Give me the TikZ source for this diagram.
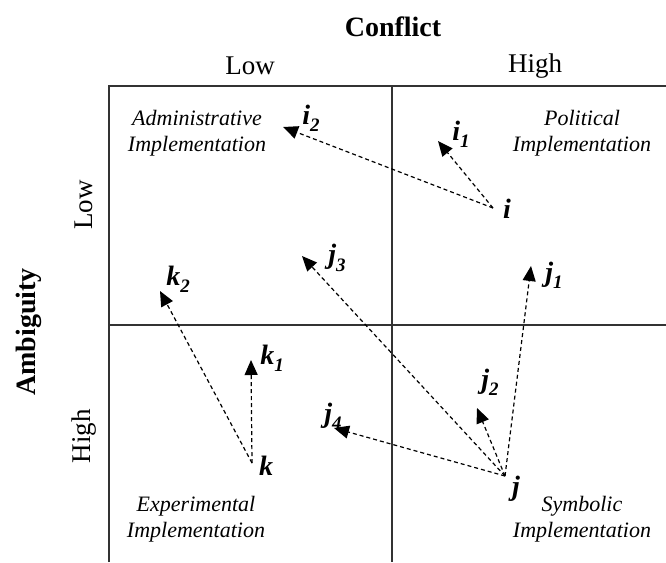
\documentclass[tikz,border=0pt]{standalone}
\usepackage{fontspec}
\setmainfont{Liberation Serif}
\usetikzlibrary{arrows.meta}
\newcommand\ptlab[2]{\fontsize{28}{28}\selectfont\bfseries\itshape #1\raisebox{-0.26em}{\fontsize{19}{19}\selectfont #2}}
\tikzset{
  grid/.style={line width=1.6pt, draw=black!80},
  arr/.style={dashed, dash pattern=on 4pt off 3pt, line width=1.2pt, -{Triangle[length=15pt,width=13pt]}},
  head/.style={font=\fontsize{28}{28}\selectfont\bfseries, inner sep=0pt},
  lvl/.style={font=\fontsize{27}{27}\selectfont, inner sep=0pt},
  quad/.style={font=\fontsize{22}{26}\selectfont\itshape, align=center, inner sep=0pt},
  lab/.style={inner sep=0pt}
}
\begin{document}
\begin{tikzpicture}[x=1pt,y=-1pt]
\useasboundingbox (0,0) rectangle (666,562);
% grid
\draw[grid] (109,562) -- (109,86) -- (666,86);
\draw[grid] (392,86) -- (392,562);
\draw[grid] (109,325) -- (666,325);
% headings
\node[head] (conf) at (393,27) {Conflict};
\node[lvl] (clow) at (250,66) {Low};
\node[lvl] (chigh) at (535,66) {High};
\node[head, rotate=90] (amb) at (29,332) {Ambiguity};
\node[lvl, rotate=90] (alow) at (84,205) {Low};
\node[lvl, rotate=90] (ahigh) at (84,436) {High};
% quadrant names
\node[quad] (adm) at (197,133) {Administrative\\Implementation};
\node[quad] (pol) at (582,133) {Political\\Implementation};
\node[quad] (exp) at (196,519) {Experimental\\Implementation};
\node[quad] (sym) at (582,519) {Symbolic\\Implementation};
% points
\coordinate (i) at (493,208);
\coordinate (i1) at (438,141);
\coordinate (i2) at (283,127);
\coordinate (j) at (505,476);
\coordinate (j1) at (531,266);
\coordinate (j2) at (477,408);
\coordinate (j3) at (302,256);
\coordinate (j4) at (334,428);
\coordinate (k) at (252,463);
\coordinate (k1) at (251,360);
\coordinate (k2) at (160,291);
% arrows
\draw[arr] (i) -- (i1);
\draw[arr] (i) -- (i2);
\draw[arr] (j) -- (j1);
\draw[arr] (j) -- (j2);
\draw[arr] (j) -- (j3);
\draw[arr] (j) -- (j4);
\draw[arr] (k) -- (k1);
\draw[arr] (k) -- (k2);
% labels
\node[lab] (li) at (507,212) {\ptlab{i}{}};
\node[lab] (li1) at (461,134) {\ptlab{i}{1}};
\node[lab] (li2) at (311,118) {\ptlab{i}{2}};
\node[lab] (lj) at (516,489) {\ptlab{j}{}};
\node[lab] (lj1) at (554,275) {\ptlab{j}{1}};
\node[lab] (lj2) at (490,382) {\ptlab{j}{2}};
\node[lab] (lj3) at (337,258) {\ptlab{j}{3}};
\node[lab] (lj4) at (333,416) {\ptlab{j}{4}};
\node[lab] (lk) at (266,469) {\ptlab{k}{}};
\node[lab] (lk1) at (272,358) {\ptlab{k}{1}};
\node[lab] (lk2) at (178,279) {\ptlab{k}{2}};
\end{tikzpicture}
\end{document}
